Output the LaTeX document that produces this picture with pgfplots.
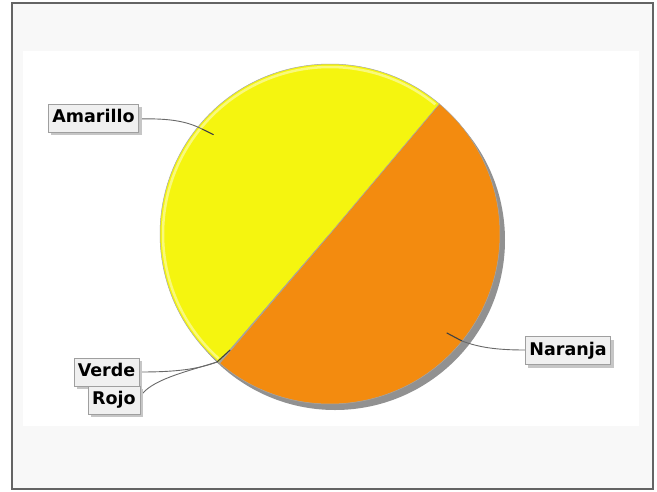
\documentclass[border=0pt]{standalone}
\usepackage{pgfplots}
\pgfplotsset{compat=1.18}
\usepackage{pgfplotstable}
\usepackage{fontspec}
\setmainfont{DejaVu Sans}
\usetikzlibrary{shadows}

\definecolor{amarillo}{RGB}{245,245,15}
\definecolor{naranja}{RGB}{243,139,15}
\definecolor{verde}{RGB}{85,255,85}
\definecolor{rojo}{RGB}{255,85,85}
\definecolor{marco}{RGB}{248,248,248}
\definecolor{borde}{RGB}{100,100,100}
\definecolor{sombra}{RGB}{145,145,145}
\definecolor{caja}{RGB}{240,240,240}
\definecolor{enlace}{RGB}{105,105,105}

% porcentajes de cada sector
\pgfplotstableread{
label    value color
Amarillo 49.8  amarillo
Verde    0.05  verde
Rojo     0.05  rojo
Naranja  50.1  naranja
}\piedata

% angulos acumulados (grados), empezando en 49.9
\xdef\piesum{0}
\foreach \i in {0,...,3}{%
  \pgfplotstablegetelem{\i}{value}\of\piedata
  \pgfmathparse{\piesum+\pgfplotsretval}%
  \xdef\piesum{\pgfmathresult}%
}
\xdef\cum{49.9}
\foreach \i in {0,...,3}{%
  \pgfplotstablegetelem{\i}{value}\of\piedata
  \expandafter\xdef\csname sa\i\endcsname{\cum}%
  \pgfmathparse{\cum+\pgfplotsretval/\piesum*360}%
  \xdef\cum{\pgfmathresult}%
  \expandafter\xdef\csname ea\i\endcsname{\cum}%
  \pgfmathparse{(\csname sa\i\endcsname+\cum)/2}%
  \expandafter\xdef\csname ma\i\endcsname{\pgfmathresult}%
  \pgfplotstablegetelem{\i}{color}\of\piedata
  \expandafter\xdef\csname col\i\endcsname{\pgfplotsretval}%
}

\tikzset{
  lab/.style={draw=gray!75, fill=caja, inner xsep=4pt, inner ysep=6pt,
    text height=12.6pt, text depth=3.4pt,
    font=\bfseries\fontsize{17.5}{20}\selectfont,
    drop shadow={shadow xshift=3pt, shadow yshift=-3pt, fill=gray!45, opacity=1}},
  link/.style={draw=enlace, line width=0.9pt},
  linkend/.style={draw=black!75, line width=1.1pt},
}

\begin{document}
\begin{tikzpicture}
\begin{axis}[
    x=1pt, y=1pt,
    xmin=0, xmax=657, ymin=0, ymax=491,
    y dir=reverse,
    hide axis,
    clip=false,
]
% fondo
\fill[white] (axis cs:0,0) rectangle (axis cs:657,491);
\fill[marco, draw=borde, line width=2pt] (axis cs:11.5,3) rectangle (axis cs:653,489);
\fill[white] (axis cs:23,51) rectangle (axis cs:639,426);

% sombra del pastel
\fill[sombra] ([shift={(5pt,-6pt)}]axis cs:330,234) circle[radius=170pt];

% sectores
\pgfplotsinvokeforeach{0,...,3}{
  \fill[fill=\csname col#1\endcsname, draw=gray!70, line width=0.5pt]
    (axis cs:330,234) -- ++(\csname sa#1\endcsname:170pt)
    arc[start angle=\csname sa#1\endcsname, end angle=\csname ea#1\endcsname, radius=170pt] -- cycle;
}
% brillo del borde amarillo
\draw[amarillo!55!white, line width=2.5pt]
  ([shift={(\csname sa0\endcsname+1:167pt)}]axis cs:330,234)
  arc[start angle=\csname sa0\endcsname+1, end angle=\csname ea0\endcsname-1, radius=167pt];

% lineas de enlace
\draw[link] (axis cs:138,119) .. controls (axis cs:172,118) and (axis cs:188,122) .. (axis cs:202,129);
\draw[linkend] (axis cs:202,129) -- ([shift={(\csname ma0\endcsname:153pt)}]axis cs:330,234);
\draw[link] (axis cs:140,372) .. controls (axis cs:178,372) and (axis cs:198,369) .. (axis cs:217,362);
\draw[link] (axis cs:140,397) .. controls (axis cs:150,380) and (axis cs:185,372) .. (axis cs:217,362);
\draw[linkend] (axis cs:217,362) -- ([shift={(\csname ma1\endcsname:153pt)}]axis cs:330,234);
\draw[link] (axis cs:525,350) .. controls (axis cs:495,350) and (axis cs:478,347) .. (axis cs:462,341);
\draw[linkend] (axis cs:462,341) -- ([shift={(\csname ma3\endcsname:153pt)}]axis cs:330,234);

% etiquetas
\node[lab] at (axis cs:93.5,118) {Amarillo};
\node[lab] at (axis cs:106.5,372) {Verde};
\node[lab] at (axis cs:114,400) {Rojo};
\node[lab] at (axis cs:568,350.5) {Naranja};
\end{axis}
\end{tikzpicture}
\end{document}
